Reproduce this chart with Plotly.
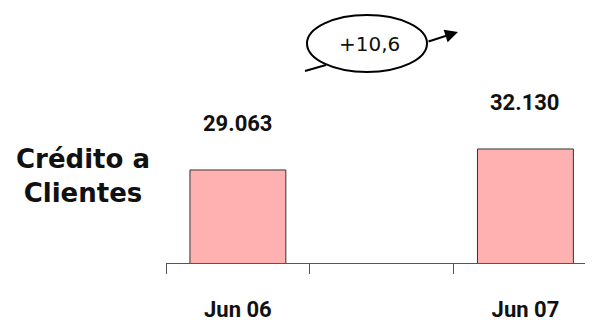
import plotly.graph_objects as go

# data
periods = ["Jun 06", " ", "Jun 07"]
credito = [29063, None, 32130]
growth_label = "+10,6"
row_title = "Crédito a<br>Clientes"

# the page puts an 8px margin top-left of the plot, so the figure is a bit smaller
OFF = 8
W, H = 593 - OFF, 323 - OFF
L, R, T, B = 166 - OFF, 0, 40 - OFF, 60


def px(x):
    return (x - OFF - L) / (W - L - R)


def py(y):
    return (H - B - (y - OFF)) / (H - T - B)


fig = go.Figure()
fig.add_trace(
    go.Bar(
        x=periods,
        y=credito,
        width=0.667,
        marker=dict(color="#ffb0b0", line=dict(color="#333333", width=1)),
        hoverinfo="skip",
    )
)

label_font = dict(family="Roboto", size=22, color="#111111")

for p, v in zip(periods, credito):
    if v is None:
        continue
    fig.add_annotation(
        x=p,
        y=v,
        text="<b>" + f"{v:,}".replace(",", ".") + "</b>",
        showarrow=False,
        yanchor="middle",
        yshift=46,
        font=label_font,
    )

# row label
fig.add_annotation(
    xref="paper",
    yref="paper",
    x=px(83),
    y=py(176),
    xanchor="center",
    yanchor="middle",
    text="<b>" + row_title + "</b>",
    showarrow=False,
    font=dict(family="DejaVu Sans", size=26, color="#111111"),
)

# growth bubble
fig.add_shape(
    type="circle",
    xref="paper",
    yref="paper",
    x0=px(307),
    x1=px(427),
    y0=py(72),
    y1=py(15),
    line=dict(color="black", width=2),
    fillcolor="white",
)
fig.add_shape(
    type="line",
    xref="paper",
    yref="paper",
    x0=px(305),
    y0=py(71),
    x1=px(326),
    y1=py(65),
    line=dict(color="black", width=2),
)
fig.add_annotation(
    xref="paper",
    yref="paper",
    x=px(369),
    y=py(44),
    xanchor="center",
    yanchor="middle",
    text=growth_label,
    showarrow=False,
    font=dict(family="DejaVu Sans", size=20, color="#111111"),
)
fig.add_annotation(
    xref="paper",
    yref="paper",
    x=px(458),
    y=py(32),
    ax=-31,
    ay=10,
    text="",
    showarrow=True,
    arrowhead=2,
    arrowsize=1.3,
    arrowwidth=2,
    arrowcolor="black",
)

fig.update_xaxes(
    type="category",
    categoryorder="array",
    categoryarray=periods,
    range=[-0.5, 2.47],
    showline=True,
    linecolor="#555555",
    linewidth=1,
    ticks="outside",
    tickson="boundaries",
    ticklen=10,
    tickcolor="#555555",
    tickfont=label_font,
    ticklabelstandoff=27,
    showgrid=False,
    zeroline=False,
)
fig.update_yaxes(
    visible=False,
    range=[15481, 48040],
    showgrid=False,
    zeroline=False,
)
fig.update_layout(
    width=W,
    height=H,
    margin=dict(l=L, r=R, t=T, b=B),
    paper_bgcolor="white",
    plot_bgcolor="white",
    showlegend=False,
    xaxis_tickprefix="<b>",
    xaxis_ticksuffix="</b>",
)

fig.write_html("out.html")
